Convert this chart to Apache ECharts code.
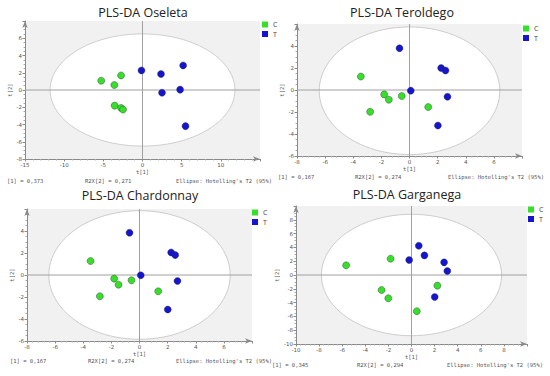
<!DOCTYPE html>
<html>
<head>
<meta charset="utf-8">
<script src="https://cdn.jsdelivr.net/npm/echarts@6/dist/echarts.min.js"></script>
<style>html,body{margin:0;padding:0;background:#fff}#c{width:550px;height:376px}</style>
</head>
<body>
<div id="c"></div>
<script>
// ---- data ----
const groups = ['C', 'T'];
const titles = ['PLS-DA Oseleta', 'PLS-DA Teroldego', 'PLS-DA Chardonnay', 'PLS-DA Garganega'];
const r2x1 = ['0,373', '0,167', '0,167', '0,345'];
const r2x2 = ['0,271', '0,274', '0,274', '0,294'];
const ellipseNote = "Ellipse: Hotelling's T2 (95%)";

const oseletaC = [[-5.27, 1.08], [-2.74, 1.69], [-3.6, 0.58], [-3.56, -1.81], [-2.74, -2.08], [-2.49, -2.27]];
const oseletaT = [[-0.13, 2.27], [2.36, 1.85], [5.19, 2.85], [2.49, -0.31], [4.8, 0.04], [5.49, -4.19]];
const teroldegoC = [[-3.46, 1.22], [-2.8, -1.98], [-1.8, -0.4], [-1.47, -0.88], [-0.55, -0.55], [1.33, -1.55]];
const teroldegoT = [[-0.71, 3.8], [2.25, 2.0], [2.56, 1.77], [0.09, -0.06], [2.7, -0.61], [2.02, -3.23]];
const chardonnayC = [[-3.48, 1.27], [-2.82, -1.93], [-1.8, -0.33], [-1.49, -0.88], [-0.57, -0.48], [1.33, -1.48]];
const chardonnayT = [[-0.71, 3.84], [2.25, 2.05], [2.54, 1.81], [0.09, -0.03], [2.7, -0.54], [2.01, -3.14]];
const garganegaC = [[-5.66, 1.4], [-1.81, 2.36], [-2.59, -2.17], [-2.01, -3.37], [2.24, -1.54], [0.46, -5.25]];
const garganegaT = [[0.63, 4.24], [-0.2, 2.17], [1.12, 2.84], [2.82, 1.83], [3.1, 0.58], [2.01, -3.18]];

// Hotelling T2 ellipse semi-axes [t1, t2]
const oseletaEllipse = [11.8, 6.5];
const teroldegoEllipse = [6.42, 5.8];
const chardonnayEllipse = [6.45, 5.85];
const garganegaEllipse = [7.8, 8.8];

// axis ranges [min, max, interval]
const xRanges = [[-15, 15, 5], [-8, 8, 2], [-8, 8, 2], [-10, 10, 2]];
const yRanges = [[-8, 8, 2], [-6, 6, 2], [-6, 6, 2], [-10, 10, 2]];

const panelData = [
  [oseletaC, oseletaT, oseletaEllipse],
  [teroldegoC, teroldegoT, teroldegoEllipse],
  [chardonnayC, chardonnayT, chardonnayEllipse],
  [garganegaC, garganegaT, garganegaEllipse]
];

// ---- layout ----
const grids = [
  {left: 25, top: 21, width: 235, height: 138},
  {left: 297, top: 24, width: 225, height: 132},
  {left: 27, top: 209, width: 225, height: 132},
  {left: 296, top: 206, width: 231, height: 138}
];
const titlePos = [[143, 12], [402, 12], [140, 195], [407, 194]];
const legendPos = [[262, 21], [523, 25], [252, 209], [528, 206]];
const notePos = [
  [[7, 181], [85, 181], [176, 181]],
  [[278, 177], [355, 177], [448, 177]],
  [[10, 361], [88, 361], [176, 361]],
  [[272, 365], [357, 365], [447, 365]]
];

const colors = {C: '#36e02a', T: '#1414d2'};
const axisGray = '#8a8a8a';
const lblStyle = {fontSize: 5.5, color: '#555', fontFamily: 'DejaVu Sans'};

const option = {
  animation: false,
  grid: grids.map(g => Object.assign({show: true, backgroundColor: '#f1f1f1', borderWidth: 0}, g)),
  xAxis: xRanges.map((r, i) => ({
    type: 'value', gridIndex: i, min: r[0], max: r[1], interval: r[2],
    name: 't[1]', nameLocation: 'middle', nameGap: 10,
    nameTextStyle: {fontSize: 5.5, color: '#555', fontFamily: 'DejaVu Sans Mono'},
    axisLine: {show: true, onZero: false, lineStyle: {color: axisGray, width: 1}, symbol: ['none', 'arrow'], symbolSize: [4, 7]},
    axisTick: {show: true, length: 2.5, lineStyle: {color: axisGray}},
    minorTick: {show: true, splitNumber: 5, length: 1.5, lineStyle: {color: '#aaa'}},
    axisLabel: Object.assign({margin: 3, showMaxLabel: false}, lblStyle),
    splitLine: {show: false}
  })),
  yAxis: yRanges.map((r, i) => ({
    type: 'value', gridIndex: i, min: r[0], max: r[1], interval: r[2],
    name: 't[2]', nameLocation: 'middle', nameGap: 12, nameRotate: 90,
    nameTextStyle: {fontSize: 5.5, color: '#555', fontFamily: 'DejaVu Sans Mono'},
    axisLine: {show: true, onZero: false, lineStyle: {color: axisGray, width: 1}, symbol: ['none', 'arrow'], symbolSize: [4, 7]},
    axisTick: {show: true, length: 2.5, lineStyle: {color: axisGray}},
    minorTick: {show: true, splitNumber: 4, length: 1.5, lineStyle: {color: '#aaa'}},
    axisLabel: Object.assign({margin: 3, showMaxLabel: false}, lblStyle),
    splitLine: {show: false}
  })),
  legend: legendPos.map(p => ({
    data: groups, orient: 'vertical', left: p[0], top: p[1],
    icon: 'rect', itemWidth: 6, itemHeight: 6, itemGap: 2.5,
    itemStyle: {borderWidth: 0},
    textStyle: {fontSize: 7, color: '#444', fontFamily: 'Open Sans'},
    padding: 0, selectedMode: false
  })),
  series: [],
  graphic: []
};

panelData.forEach((pd, i) => {
  option.series.push({
    type: 'custom', name: 'ellipse', xAxisIndex: i, yAxisIndex: i, z: 1, silent: true,
    data: [[0, 0, pd[2][0], pd[2][1]]],
    renderItem: function (params, api) {
      const c = api.coord([api.value(0), api.value(1)]);
      const s = api.size([api.value(2), api.value(3)]);
      const cs = params.coordSys;
      const o = api.coord([0, 0]);
      return {
        type: 'group',
        children: [
          {type: 'circle', x: c[0], y: c[1], scaleY: s[1] / s[0], shape: {cx: 0, cy: 0, r: s[0]},
           style: {fill: '#ffffff', stroke: '#c4c4c4', lineWidth: 1}},
          {type: 'line', shape: {x1: cs.x, y1: o[1], x2: cs.x + cs.width, y2: o[1]}, style: {stroke: '#a0a0a0', lineWidth: 1}},
          {type: 'line', shape: {x1: o[0], y1: cs.y, x2: o[0], y2: cs.y + cs.height}, style: {stroke: '#a0a0a0', lineWidth: 1}}
        ]
      };
    }
  });
  [0, 1].forEach(k => {
    option.series.push({
      type: 'scatter', name: groups[k], xAxisIndex: i, yAxisIndex: i, z: 3,
      data: pd[k], symbolSize: 7,
      itemStyle: {color: colors[groups[k]], borderColor: '#2a2a2a', borderWidth: 0.4, opacity: 1}
    });
  });
  option.graphic.push({
    type: 'text', x: titlePos[i][0], y: titlePos[i][1],
    style: {text: titles[i], fontSize: 12.5, fontFamily: 'Open Sans', fill: '#222', textAlign: 'center', textVerticalAlign: 'middle'}
  });
  const notes = ['[1] = ' + r2x1[i], 'R2X[2] = ' + r2x2[i], ellipseNote];
  notes.forEach((t, j) => {
    option.graphic.push({
      type: 'text', x: notePos[i][j][0], y: notePos[i][j][1],
      style: {text: t, fontSize: 5.5, fontFamily: 'DejaVu Sans Mono', fill: '#555', textAlign: 'left', textVerticalAlign: 'middle'}
    });
  });
});

const chart = echarts.init(document.getElementById('c'), null, {renderer: 'svg'});
chart.setOption(option);
</script>
</body>
</html>
